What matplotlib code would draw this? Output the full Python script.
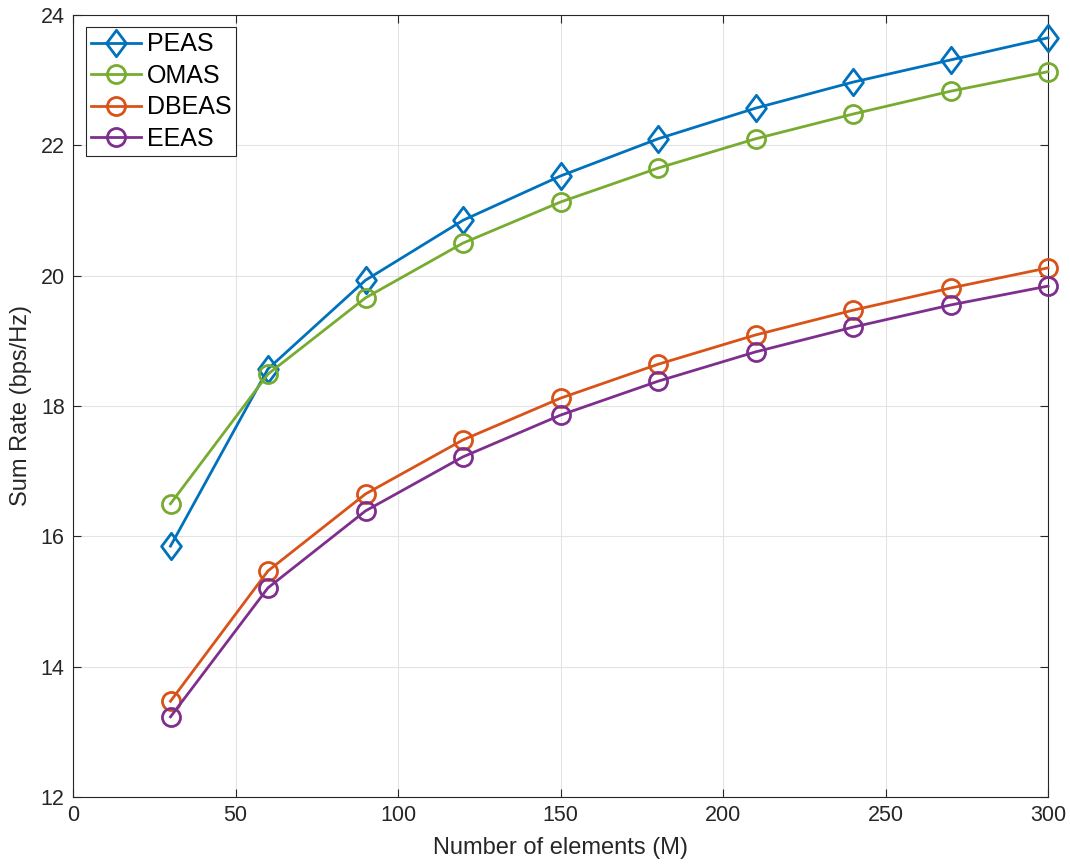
import matplotlib.pyplot as plt
from matplotlib.path import Path
import numpy as np

M = [30, 60, 90, 120, 150, 180, 210, 240, 270, 300]
peas = [15.85, 18.57, 19.93, 20.85, 21.53, 22.10, 22.57, 22.97, 23.31, 23.65]
omas = [16.50, 18.49, 19.66, 20.50, 21.13, 21.65, 22.10, 22.48, 22.83, 23.13]
dbeas = [13.47, 15.47, 16.65, 17.48, 18.12, 18.64, 19.09, 19.47, 19.81, 20.12]
eeas = [13.23, 15.21, 16.39, 17.22, 17.86, 18.38, 18.83, 19.21, 19.55, 19.84]

plt.rcParams['font.family'] = ['Liberation Sans', 'DejaVu Sans']

# matlab-like diamond (a bit taller than wide)
diamond = Path([(0, 1), (0.75, 0), (0, -1), (-0.75, 0), (0, 1)],
               [Path.MOVETO, Path.LINETO, Path.LINETO, Path.LINETO, Path.CLOSEPOLY])

fig = plt.figure(figsize=(10.7, 8.66), dpi=100)
ax = fig.add_axes([73/1070, 1-797/866, (1048-73)/1070, (797-15)/866])

kw = dict(linewidth=2.0, markerfacecolor='none', markeredgewidth=2.0, clip_on=False, zorder=3)
ax.plot(M, peas, '-', marker=diamond, markersize=19, color='#0072BD', label='PEAS', **kw)
ax.plot(M, omas, 'o-', markersize=13, color='#77AC30', label='OMAS', **kw)
ax.plot(M, dbeas, 'o-', markersize=13, color='#D95319', label='DBEAS', **kw)
ax.plot(M, eeas, 'o-', markersize=13, color='#7E2F8E', label='EEAS', **kw)

ax.set_xlim(0, 300)
ax.set_ylim(12, 24)
ax.set_xticks(np.arange(0, 301, 50))
ax.set_yticks(np.arange(12, 25, 2))
ax.grid(True, color='#e3e3e3', linewidth=0.8)
ax.set_axisbelow(True)
ax.tick_params(direction='in', labelsize=15.5, top=True, right=True, length=6,
               color='#262626', labelcolor='#262626', pad=6)
for s in ax.spines.values():
    s.set_color('#262626')
    s.set_linewidth(0.8)
ax.set_xlabel('Number of elements (M)', fontsize=17, color='#262626', labelpad=8)
ax.set_ylabel('Sum Rate (bps/Hz)', fontsize=17, color='#262626', labelpad=6)
leg = ax.legend(loc='upper left', fontsize=18, fancybox=False, edgecolor='#262626',
                borderaxespad=0.5, handlelength=2.0, labelspacing=0.3, handletextpad=0.25,
                borderpad=0.2, framealpha=1)
leg.get_frame().set_linewidth(0.8)

fig.savefig('out.png', dpi=100)
